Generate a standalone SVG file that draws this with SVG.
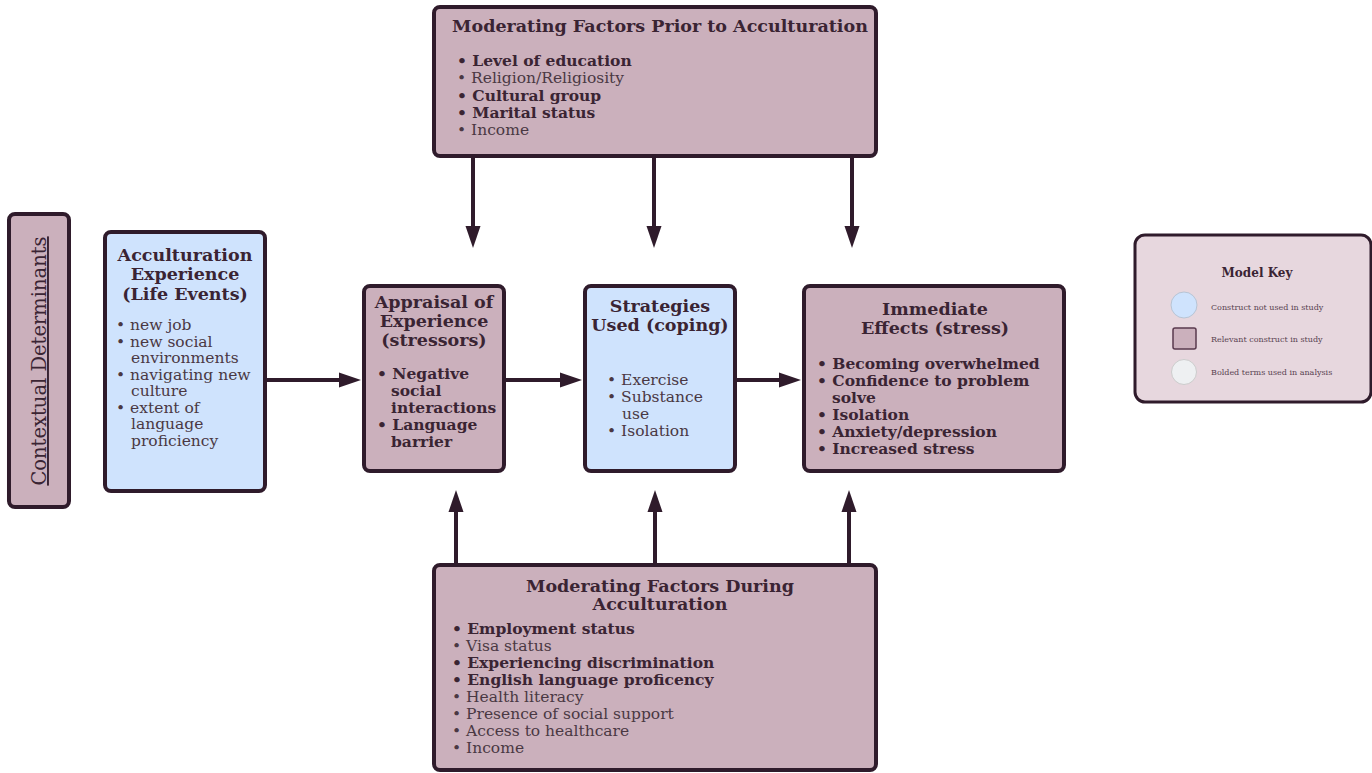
<svg xmlns="http://www.w3.org/2000/svg" width="1372" height="773" viewBox="0 0 1372 773">
<defs>
<style>
.box{stroke:#2f1b2b;stroke-width:4}
.m{fill:#cbb0bc}
.b{fill:#cfe3fd}
text{font-family:"DejaVu Serif","Liberation Serif",serif;fill:#3a2433}
.t{font-weight:bold;font-size:17.5px;text-anchor:middle}
.i{font-size:15.5px;fill:#4a3843}
.ib{font-size:15.5px;font-weight:bold}
.con{stroke:#2f1b2b;stroke-width:4;fill:none}
.k{font-size:8px;fill:#5a4452}
</style>
<marker id="ah2" markerWidth="22" markerHeight="16" refX="12" refY="8" orient="auto" markerUnits="userSpaceOnUse" viewBox="0 0 22 16">
<path d="M0,0.5 L22,8 L0,15.5 z" fill="#2f1b2b"/>
</marker>
</defs>
<rect width="1372" height="773" fill="#ffffff"/>

<g id="connectors">
<line class="con" x1="266" y1="380" x2="351" y2="380" marker-end="url(#ah2)"/>
<line class="con" x1="505" y1="380" x2="572" y2="380" marker-end="url(#ah2)"/>
<line class="con" x1="736" y1="380" x2="791" y2="380" marker-end="url(#ah2)"/>
<line class="con" x1="473" y1="157" x2="473" y2="238" marker-end="url(#ah2)"/>
<line class="con" x1="654" y1="157" x2="654" y2="238" marker-end="url(#ah2)"/>
<line class="con" x1="852" y1="157" x2="852" y2="238" marker-end="url(#ah2)"/>
<line class="con" x1="456" y1="564" x2="456" y2="500" marker-end="url(#ah2)"/>
<line class="con" x1="655" y1="564" x2="655" y2="500" marker-end="url(#ah2)"/>
<line class="con" x1="849" y1="564" x2="849" y2="500" marker-end="url(#ah2)"/>
</g>

<g id="contextual">
<rect class="box m" x="9" y="214" width="60" height="293" rx="6"/>
<text transform="translate(46,361) rotate(-90)" text-anchor="middle" font-size="19.5" text-decoration="underline">Contextual Determinants</text>
</g>

<g id="acculturation">
<rect class="box b" x="105" y="232" width="160" height="259" rx="6"/>
<text class="t" x="185" y="261">Acculturation</text>
<text class="t" x="185" y="280">Experience</text>
<text class="t" x="185" y="300">(Life Events)</text>
<text class="i" x="116" y="330">• new job</text>
<text class="i" x="116" y="347">• new social</text>
<text class="i" x="131" y="363">environments</text>
<text class="i" x="116" y="380">• navigating new</text>
<text class="i" x="131" y="396">culture</text>
<text class="i" x="116" y="413">• extent of</text>
<text class="i" x="131" y="429">language</text>
<text class="i" x="131" y="446">proficiency</text>
</g>

<g id="appraisal">
<rect class="box m" x="364" y="286" width="140" height="185" rx="6"/>
<text class="t" x="434" y="308">Appraisal of</text>
<text class="t" x="434" y="327">Experience</text>
<text class="t" x="434" y="346">(stressors)</text>
<text class="ib" x="377" y="379">• Negative</text>
<text class="ib" x="391" y="396">social</text>
<text class="ib" x="391" y="413">interactions</text>
<text class="ib" x="377" y="430">• Language</text>
<text class="ib" x="391" y="447">barrier</text>
</g>

<g id="strategies">
<rect class="box b" x="585" y="286" width="150" height="185" rx="6"/>
<text class="t" x="660" y="312">Strategies</text>
<text class="t" x="660" y="331">Used (coping)</text>
<text class="i" x="607" y="385">• Exercise</text>
<text class="i" x="607" y="402">• Substance</text>
<text class="i" x="622" y="419">use</text>
<text class="i" x="607" y="436">• Isolation</text>
</g>

<g id="immediate">
<rect class="box m" x="804" y="286" width="260" height="185" rx="6"/>
<text class="t" x="935" y="315">Immediate</text>
<text class="t" x="935" y="334">Effects (stress)</text>
<text class="ib" x="817" y="369">• Becoming overwhelmed</text>
<text class="ib" x="817" y="386">• Confidence to problem</text>
<text class="ib" x="832" y="403">solve</text>
<text class="ib" x="817" y="420">• Isolation</text>
<text class="ib" x="817" y="437">• Anxiety/depression</text>
<text class="ib" x="817" y="454">• Increased stress</text>
</g>

<g id="prior">
<rect class="box m" x="434" y="7" width="442" height="149" rx="6"/>
<text class="t" x="660" y="32" font-size="17.2">Moderating Factors Prior to Acculturation</text>
<text class="ib" x="457" y="66">• Level of education</text>
<text class="i" x="457" y="83">• Religion/Religiosity</text>
<text class="ib" x="457" y="101">• Cultural group</text>
<text class="ib" x="457" y="118">• Marital status</text>
<text class="i" x="457" y="135">• Income</text>
</g>

<g id="during">
<rect class="box m" x="434" y="565" width="442" height="205" rx="6"/>
<text class="t" x="660" y="592">Moderating Factors During</text>
<text class="t" x="660" y="610">Acculturation</text>
<text class="ib" x="452" y="634">• Employment status</text>
<text class="i" x="452" y="651">• Visa status</text>
<text class="ib" x="452" y="668">• Experiencing discrimination</text>
<text class="ib" x="452" y="685">• English language proficency</text>
<text class="i" x="452" y="702">• Health literacy</text>
<text class="i" x="452" y="719">• Presence of social support</text>
<text class="i" x="452" y="736">• Access to healthcare</text>
<text class="i" x="452" y="753">• Income</text>
</g>

<g id="key">
<rect x="1135" y="235" width="236" height="167" rx="10" fill="#e7d7de" stroke="#2f1b2b" stroke-width="3"/>
<text x="1257" y="277" text-anchor="middle" font-size="12" font-weight="bold">Model Key</text>
<circle cx="1184" cy="305" r="13" fill="#cfe3fd" stroke="#b8c4d4" stroke-width="1"/>
<text class="k" x="1211" y="310">Construct not used in study</text>
<rect x="1173" y="328" width="23" height="21" rx="2" fill="#cbb0bc" stroke="#5a3a4e" stroke-width="1.5"/>
<text class="k" x="1211" y="342">Relevant construct in study</text>
<circle cx="1184" cy="372" r="12.5" fill="#eef0f2" stroke="#cccccc" stroke-width="1"/>
<text class="k" x="1211" y="375">Bolded terms used in analysis</text>
</g>
</svg>
